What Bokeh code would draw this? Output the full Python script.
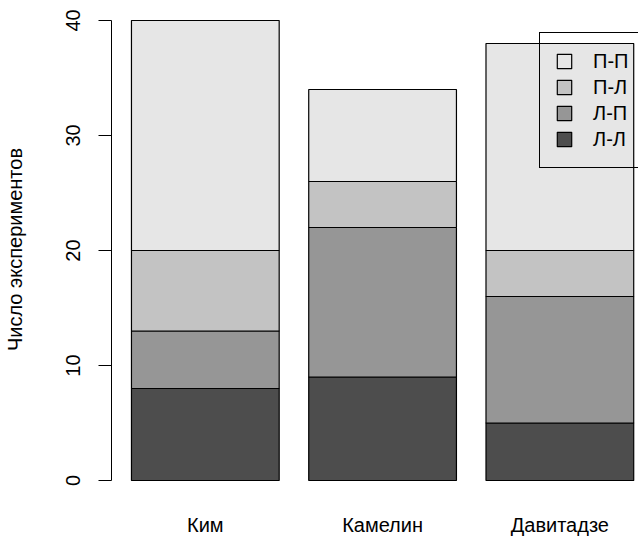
from bokeh.plotting import figure
from bokeh.models import ColumnDataSource, Legend, LegendItem, FixedTicker, Range1d
from bokeh.embed import file_html
from bokeh.resources import INLINE

# ---- data ----
names = ["Ким", "Камелин", "Давитадзе"]
series = ["Л-Л", "Л-П", "П-Л", "П-П"]
ll = [8, 9, 5]
lp = [5, 13, 11]
pl = [7, 4, 4]
pp = [20, 8, 18]
colors = ["#4D4D4D", "#969696", "#C3C3C3", "#E6E6E6"]
yticks = [0, 10, 20, 30, 40]
ylabel = "Число экспериментов"

FONT = "Liberation Sans"

# R barplot layout: width 1, space 0.2
centers = [0.2 + 0.5 + i * 1.2 for i in range(len(names))]

src = ColumnDataSource(dict(x=centers, ll=ll, lp=lp, pl=pl, pp=pp))

p = figure(width=638, height=539, output_backend="svg", toolbar_location=None,
           x_range=Range1d(0.06486, 3.6324), y_range=Range1d(-1.565, 41.739),
           min_border_left=110, min_border_right=0, min_border_top=0,
           min_border_bottom=41)
p.outline_line_color = None
p.xgrid.visible = False
p.ygrid.visible = False

rs = p.vbar_stack(["ll", "lp", "pl", "pp"], x="x", width=1.0, source=src,
                  fill_color=colors, line_color="black", line_width=1.2)

# y axis
p.yaxis.ticker = FixedTicker(ticks=yticks)
p.yaxis.bounds = (min(yticks), max(yticks))
p.yaxis.major_tick_out = 13
p.yaxis.major_tick_in = 0
p.yaxis.minor_tick_line_color = None
p.yaxis.major_label_orientation = "parallel"
p.yaxis.major_label_text_font = FONT
p.yaxis.major_label_text_font_size = "20px"
p.yaxis.major_label_text_color = "black"
p.yaxis.major_label_standoff = 18
p.yaxis.axis_label = ylabel
p.yaxis.axis_label_text_font = FONT
p.yaxis.axis_label_text_font_size = "20px"
p.yaxis.axis_label_text_font_style = "normal"
p.yaxis.axis_label_text_color = "black"
p.yaxis.axis_label_standoff = 38
p.yaxis.axis_line_color = "black"
p.yaxis.major_tick_line_color = "black"

# x axis (labels only)
p.xaxis.ticker = FixedTicker(ticks=centers)
p.xaxis.major_label_overrides = {c: n for c, n in zip(centers, names)}
p.xaxis.axis_line_color = None
p.xaxis.major_tick_line_color = None
p.xaxis.major_tick_out = 0
p.xaxis.major_tick_in = 0
p.xaxis.minor_tick_line_color = None
p.xaxis.major_label_text_font = FONT
p.xaxis.major_label_text_font_size = "20px"
p.xaxis.major_label_text_color = "black"
p.xaxis.major_label_standoff = 15

items = [LegendItem(label=s, renderers=[r]) for s, r in zip(series, rs)][::-1]
legend = Legend(items=items, location=(428, 330))
legend.border_line_color = "black"
legend.border_line_alpha = 1.0
legend.border_line_width = 1.2
legend.background_fill_alpha = 0
legend.padding = 15
legend.spacing = 0
legend.margin = 0
legend.glyph_width = 18
legend.glyph_height = 18
legend.label_height = 26
legend.label_standoff = 20
legend.label_text_font = FONT
legend.label_text_font_size = "20px"
legend.label_text_color = "black"
p.add_layout(legend, "center")

open("out.html", "w").write(file_html(p, INLINE))
